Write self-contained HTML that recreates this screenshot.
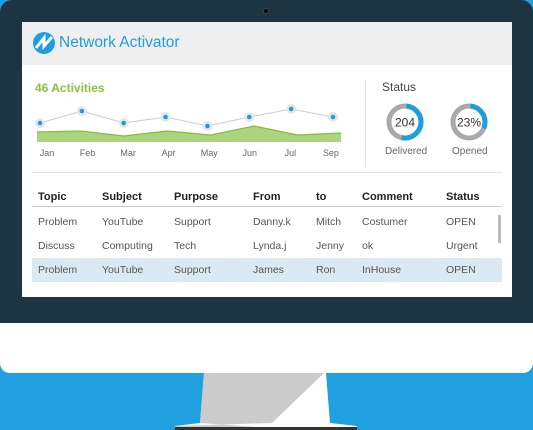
<!DOCTYPE html>
<html><head><meta charset="utf-8"><style>
*{margin:0;padding:0;box-sizing:border-box}
body{width:533px;height:430px;overflow:hidden;background:#21a0df;font-family:"Liberation Sans",sans-serif;position:relative}
.abs{position:absolute}
.t{position:absolute;font-size:11px;color:#444;white-space:nowrap}
.h{font-weight:bold;color:#222}
</style></head><body>
<div class="abs" style="left:0;top:0;width:533px;height:323px;background:#1d3443;border-radius:12px 12px 0 0"></div>
<div class="abs" style="left:263px;top:8px;width:6px;height:6px;border-radius:50%;background:#000;border:1px solid #444"></div>
<div class="abs" style="left:0;top:323px;width:533px;height:50px;background:#fff;border-radius:0 0 10px 10px"></div>
<svg class="abs" style="left:0;top:373px" width="533" height="57">
<path d="M204 0 L326 0 L330 50 L357 53 L357 55 L175 55 L175 53 L200 50 Z" fill="#fff"/>
<path d="M204 0 L324 0 L272 50 L175 53 L175 55 L270 55 L200 50 Z" fill="#cbcbcb"/>
<rect x="175" y="54" width="182" height="3" fill="#333"/>
</svg>
<div class="abs" style="left:22px;top:22px;width:490px;height:275px;background:#fff"></div>
<div class="abs" style="left:22px;top:22px;width:490px;height:43px;background:#efefef"></div>
<svg class="abs" style="left:33px;top:32px" width="22" height="22"><circle cx="11" cy="11" r="11" fill="#1d9ee0"/><path d="M3 16 L11 6 L11 14 L19 5" stroke="#fff" stroke-width="3" fill="none"/></svg>
<div class="t" style="left:59px;top:34px;font-size:15.5px;color:#1d9ee0">Network Activator</div>
<div class="t" style="left:35px;top:81px;font-size:12px;color:#8cc03f;font-weight:bold">46 Activities</div>
<svg class="abs" id="chart" style="left:0;top:0" width="533" height="170"></svg>
<div class="abs" style="left:365px;top:80px;width:1px;height:86px;background:#e3e3e3"></div>
<div class="abs" style="left:32px;top:172px;width:470px;height:1px;background:#e8e8e8"></div>
<div class="t" style="left:382px;top:80px;font-size:12px;color:#444">Status</div>
<svg class="abs" id="donuts" style="left:370px;top:95px" width="140" height="60"></svg>
<div class="t" style="left:385px;top:146px;font-size:10px;color:#666">Delivered</div>
<div class="t" style="left:452px;top:146px;font-size:10px;color:#666">Opened</div>
<div class="abs" style="left:32px;top:206px;width:470px;height:1px;background:#ccc"></div>
<div class="abs" style="left:32px;top:258px;width:470px;height:24px;background:#dbeaf2"></div>
<div class="abs" style="left:498px;top:215px;width:3px;height:28px;background:#bbb"></div>
<div id="table"></div>
<script>
const months=["Jan","Feb","Mar","Apr","May","Jun","Jul","Sep"];
const lineVals=[19,31,19,25,16,25,33,25];
const areaVals=[10,11,6,11,7,16,7,9];
const deliveredPct=0.52, openedPct=0.3;
const NS="http://www.w3.org/2000/svg";
const svg=document.getElementById('chart');
const xl=i=>40+i*(333-40)/(months.length-1);
const xa=i=>37+i*(341-37)/(months.length-1);
const y=v=>142-v;
function mk(tag,at){const e=document.createElementNS(NS,tag);for(const k in at)e.setAttribute(k,at[k]);svg.appendChild(e);return e;}
let d="M"+xa(0)+" 142";areaVals.forEach((v,i)=>d+=" L"+xa(i)+" "+y(v));d+=" L"+xa(areaVals.length-1)+" 142 Z";
const ar=mk('path',{d:d,fill:'#acd37e',stroke:'none'});


const al=mk('polyline',{points:areaVals.map((v,i)=>xa(i)+","+y(v)).join(" "),fill:'none',stroke:'#86bd3c','stroke-width':1.2});


const ln=mk('polyline',{points:lineVals.map((v,i)=>xl(i)+","+y(v)).join(" "),fill:'none',stroke:'#ccc','stroke-width':1});


lineVals.forEach((v,i)=>{
 const h=mk('circle',{cx:xl(i),cy:y(v),r:5,fill:'#e6e6e6'});
 
 
 const c=mk('circle',{cx:xl(i),cy:y(v),r:2.3,fill:'#1d9ee0'});
 
 
 const t=mk('text',{x:xl(i)+7-i*1.3,y:156,'font-size':9,fill:'#666','text-anchor':'middle','font-family':'Liberation Sans, sans-serif'});
 t.textContent=months[i];
 
 
});
const ds=document.getElementById('donuts');
function donut(cx,pct,label,name){
 const r=16,C=2*Math.PI*r;
 const g=document.createElementNS(NS,'circle');
 g.setAttribute('cx',cx);g.setAttribute('cy',27);g.setAttribute('r',r);g.setAttribute('fill','none');g.setAttribute('stroke','#aaa');g.setAttribute('stroke-width',5);
 
 
 ds.appendChild(g);
 const b=document.createElementNS(NS,'circle');
 b.setAttribute('cx',cx);b.setAttribute('cy',27);b.setAttribute('r',r);b.setAttribute('fill','none');b.setAttribute('stroke','#1d9ee0');b.setAttribute('stroke-width',5);
 b.setAttribute('stroke-dasharray',(C*pct)+" "+C);b.setAttribute('transform','rotate(-85 '+cx+' 27)');
 
 
 ds.appendChild(b);
 const t=document.createElementNS(NS,'text');
 t.setAttribute('x',cx);t.setAttribute('y',31.5);t.setAttribute('text-anchor','middle');t.setAttribute('font-size',12);t.setAttribute('fill','#333');t.setAttribute('font-family','Liberation Sans, sans-serif');
 t.textContent=label;
 
 
 ds.appendChild(t);
}
donut(35,deliveredPct,"204","delivered");
donut(99,openedPct,"23%","opened");
const headers=["Topic","Subject","Purpose","From","to","Comment","Status"];
const colX=[38,102,174,253,316,362,446];
const rows=[["Problem","YouTube","Support","Danny.k","Mitch","Costumer","OPEN"],["Discuss","Computing","Tech","Lynda.j","Jenny","ok","Urgent"],["Problem","YouTube","Support","James","Ron","InHouse","OPEN"]];
const tb=document.getElementById('table');
headers.forEach((h,i)=>{const e=document.createElement('div');e.className='t h';e.style.left=colX[i]+'px';e.style.top='191px';e.textContent=h;
 
 
 tb.appendChild(e);});
rows.forEach((r,ri)=>r.forEach((c,i)=>{const e=document.createElement('div');e.className='t';e.style.left=colX[i]+'px';e.style.top=(216+ri*24)+'px';e.style.fontSize='10.5px';e.style.color='#555';e.textContent=c;
 
 
 tb.appendChild(e);}));
</script>
</body></html>
